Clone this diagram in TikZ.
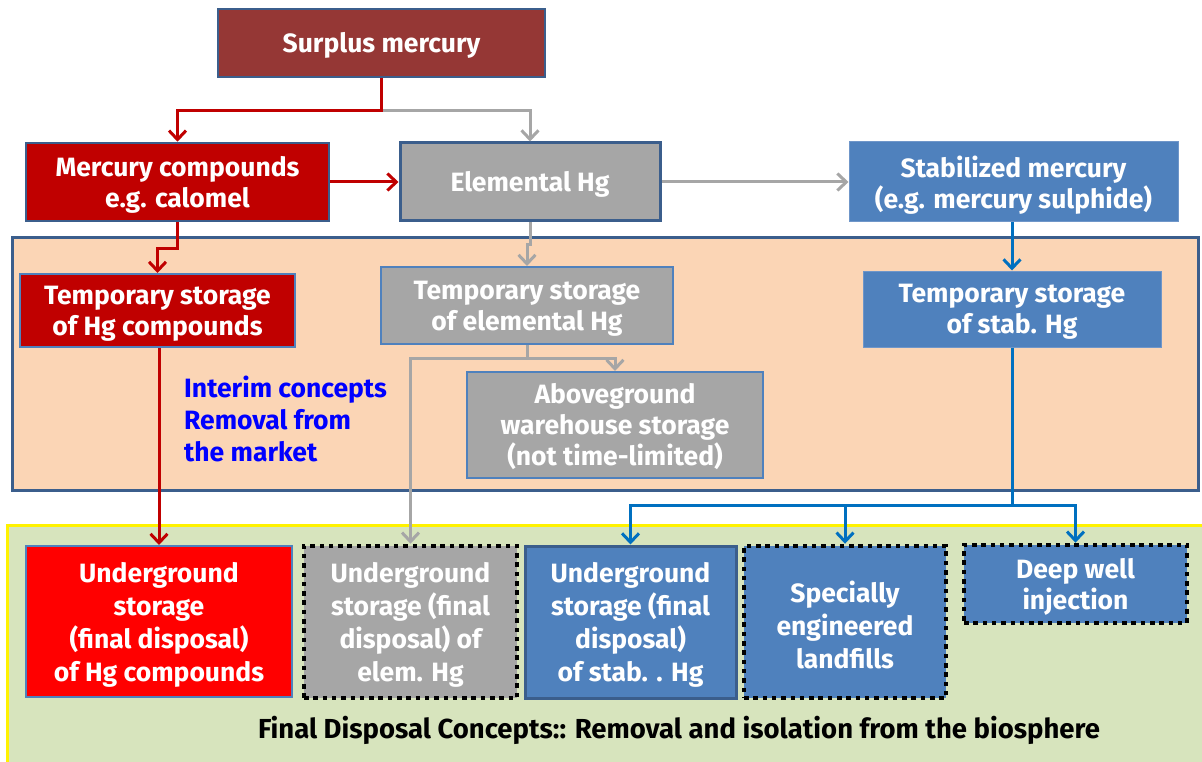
\documentclass[tikz,border=0pt]{standalone}
\usepackage{fontspec}
\setmainfont{Fira Sans}
\usetikzlibrary{arrows.meta,calc}
\definecolor{surplusc}{HTML}{953735}
\definecolor{darkred}{HTML}{C00000}
\definecolor{grayf}{HTML}{A6A6A6}
\definecolor{bluef}{HTML}{4F81BD}
\definecolor{blueline}{HTML}{0070C0}
\definecolor{darkblue}{HTML}{3B5E8C}
\definecolor{orangef}{HTML}{FBD5B5}
\definecolor{greenf}{HTML}{D7E4BD}
\definecolor{stborder}{HTML}{6F96C9}
\begin{document}
\begin{tikzpicture}[x=1pt,y=-1pt,
  box/.style={inner sep=0pt},
  tx/.style={inner sep=0pt, align=center, text=white, yshift=-3pt,
    font=\fontsize{26.5}{31}\selectfont\bfseries},
  txtall/.style={tx, font=\fontsize{26.5}{33}\selectfont\bfseries},
  dotbox/.style={box, draw=black, line width=4.5pt, dash pattern=on 4.5pt off 4.8pt},
  conn/.style={line width=3pt, -{Straight Barb[length=9pt,width=17pt]}},
  redc/.style={conn, draw=darkred},
  grayc/.style={conn, draw=grayf},
  bluec/.style={conn, draw=blueline}]
\useasboundingbox (0,0) rectangle (1202,762);
\fill[white] (0,0) rectangle (1202,762);
% panels
\draw[fill=orangef, draw=darkblue, line width=3pt] (12,238) rectangle (1198,490);
\draw[fill=greenf, draw=yellow, line width=3pt] (7,525) rectangle (1215,775);
% top row
\node[box, fill=surplusc, draw=darkblue, line width=2pt, minimum width=327pt, minimum height=68pt,
  label={[tx, yshift=1pt]center:{Surplus mercury}}] (surplus) at (381.5,43) {};
\node[box, fill=darkred, draw=darkblue, line width=2.5pt, minimum width=303pt, minimum height=78pt,
  label={[tx]center:{Mercury compounds\\e.g. calomel}}] (mc) at (177.5,182) {};
\node[box, fill=grayf, draw=darkblue, line width=3pt, minimum width=260pt, minimum height=78pt,
  label={[tx, yshift=1pt]center:{Elemental Hg}}] (el) at (530,182) {};
\node[box, fill=bluef, draw=stborder, line width=1pt, minimum width=329pt, minimum height=80pt,
  label={[tx]center:{Stabilized mercury\\(e.g. mercury sulphide)}}] (st) at (1013.5,182) {};
% interim row
\node[box, fill=darkred, draw=bluef, line width=2pt, minimum width=275pt, minimum height=73pt,
  label={[tx]center:{Temporary storage\\of Hg compounds}}] (tmc) at (157.5,310.5) {};
\node[box, fill=grayf, draw=bluef, line width=2pt, minimum width=292pt, minimum height=77pt,
  label={[tx]center:{Temporary storage\\of elemental Hg}}] (tel) at (527,305.5) {};
\node[box, fill=grayf, draw=bluef, line width=2pt, minimum width=296pt, minimum height=106pt,
  label={[tx, yshift=1pt]center:{Aboveground\\warehouse storage\\(not time-limited)}}] (abv) at (615,425) {};
\node[box, fill=bluef, draw=stborder, line width=1pt, minimum width=298pt, minimum height=76pt,
  label={[tx]center:{Temporary storage\\of stab. Hg}}] (tst) at (1012,309) {};
\node[anchor=west, inner sep=0pt, align=left, text=blue, font=\fontsize{26.5}{32}\selectfont\bfseries] (interim) at (184,419) {Interim concepts\\Removal from\\the market};
% final row
\node[box, fill=red, draw=bluef, line width=2pt, minimum width=266pt, minimum height=151pt,
  label={[txtall]center:{Underground\\storage\\(final disposal)\\of Hg compounds}}] (ug1) at (159,621.5) {};
\node[dotbox, fill=grayf, minimum width=213pt, minimum height=152pt,
  label={[txtall]center:{Underground\\storage (final\\disposal) of\\elem. Hg}}] (ug2) at (410.5,622) {};
\node[box, fill=bluef, draw=darkblue, line width=3pt, minimum width=211pt, minimum height=152pt,
  label={[txtall]center:{Underground\\storage (final\\disposal)\\of stab. . Hg}}] (ug3) at (630.5,622) {};
\node[dotbox, fill=bluef, minimum width=202pt, minimum height=152pt,
  label={[txtall]center:{Specially\\engineered\\landfills}}] (sel) at (845,622) {};
\node[dotbox, fill=bluef, minimum width=223pt, minimum height=78pt,
  label={[tx]center:{Deep well\\injection}}] (dwi) at (1075.5,584) {};
\node[inner sep=0pt, font=\fontsize{27.5}{32}\selectfont\bfseries] (fdc) at (679,730) {Final Disposal Concepts:: Removal and isolation from the biosphere};
% connectors
\coordinate (j1) at ($(surplus.south)+(0,33)$);
\draw[grayc] (j1) -| (el.north);
\draw[redc] (surplus.south) -- (j1) -| (mc.north);
\draw[redc] (mc.east) -- (mc.east -| el.west);
\draw[grayc] (el.east) -- (el.east -| st.west);
\draw[redc] (mc.south) -- ++(0,26) -| (tmc.north);
\draw[grayc] (el.south) -- ++(0,22) -| (tel.north);
\draw[bluec] (tst.north |- st.south) -- (tst.north);
\draw[redc] (ug1.north |- tmc.south) -- (ug1.north);
\coordinate (j2) at ($(tel.south)+(0,13)$);
\draw[grayc] (tel.south) -- (j2) -| (abv.north);
\draw[grayc] (j2) -| (ug2.north);
\coordinate (j3) at ($(tst.south)+(0,158)$);
\draw[bluec] (j3) -| (sel.north);
\draw[bluec] (j3) -| (dwi.north);
\draw[bluec] (tst.south) -- (j3) -| (ug3.north);
\end{tikzpicture}
\end{document}
